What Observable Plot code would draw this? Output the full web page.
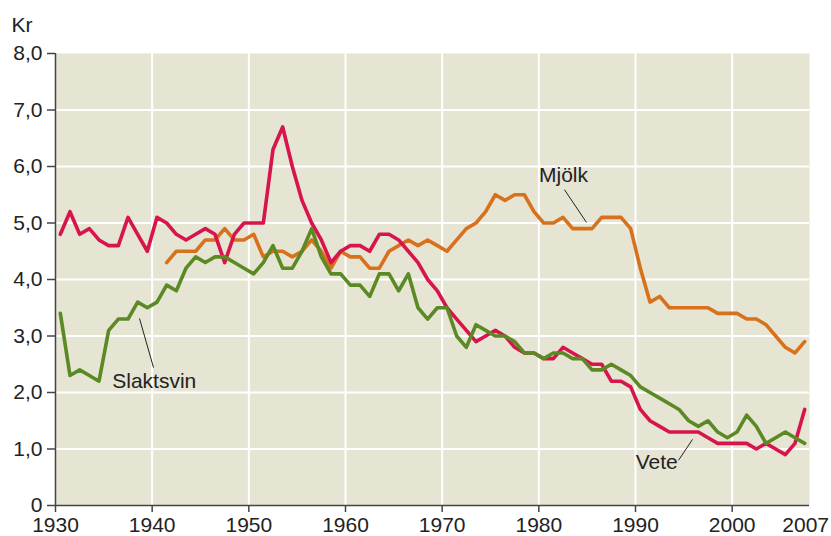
<!DOCTYPE html>
<html>
<head>
<meta charset="utf-8">
<script src="https://cdn.jsdelivr.net/npm/d3@7"></script>
<script src="https://cdn.jsdelivr.net/npm/@observablehq/plot@0.6"></script>
<style>
  html, body { margin: 0; padding: 0; background: #fff; }
  #chart svg { display: block; }
</style>
</head>
<body>
<div id="chart"></div>
<script>
// ---- Data (kr, real prices) ----
const years = d3.range(1930, 2008);
const vete = [
  4.8, 5.2, 4.8, 4.9, 4.7, 4.6, 4.6, 5.1, 4.8, 4.5,
  5.1, 5.0, 4.8, 4.7, 4.8, 4.9, 4.8, 4.3, 4.8, 5.0,
  5.0, 5.0, 6.3, 6.7, 6.0, 5.4, 5.0, 4.7, 4.3, 4.5,
  4.6, 4.6, 4.5, 4.8, 4.8, 4.7, 4.5, 4.3, 4.0, 3.8,
  3.5, 3.3, 3.1, 2.9, 3.0, 3.1, 3.0, 2.8, 2.7, 2.7,
  2.6, 2.6, 2.8, 2.7, 2.6, 2.5, 2.5, 2.2, 2.2, 2.1,
  1.7, 1.5, 1.4, 1.3, 1.3, 1.3, 1.3, 1.2, 1.1, 1.1,
  1.1, 1.1, 1.0, 1.1, 1.0, 0.9, 1.1, 1.7
];
const slaktsvin = [
  3.4, 2.3, 2.4, 2.3, 2.2, 3.1, 3.3, 3.3, 3.6, 3.5,
  3.6, 3.9, 3.8, 4.2, 4.4, 4.3, 4.4, 4.4, 4.3, 4.2,
  4.1, 4.3, 4.6, 4.2, 4.2, 4.5, 4.9, 4.4, 4.1, 4.1,
  3.9, 3.9, 3.7, 4.1, 4.1, 3.8, 4.1, 3.5, 3.3, 3.5,
  3.5, 3.0, 2.8, 3.2, 3.1, 3.0, 3.0, 2.9, 2.7, 2.7,
  2.6, 2.7, 2.7, 2.6, 2.6, 2.4, 2.4, 2.5, 2.4, 2.3,
  2.1, 2.0, 1.9, 1.8, 1.7, 1.5, 1.4, 1.5, 1.3, 1.2,
  1.3, 1.6, 1.4, 1.1, 1.2, 1.3, 1.2, 1.1
];
const mjolkYears = d3.range(1941, 2008);
const mjolk = [
  4.3, 4.5, 4.5, 4.5, 4.7, 4.7, 4.9, 4.7, 4.7,
  4.8, 4.4, 4.5, 4.5, 4.4, 4.5, 4.7, 4.5, 4.2, 4.5,
  4.4, 4.4, 4.2, 4.2, 4.5, 4.6, 4.7, 4.6, 4.7, 4.6,
  4.5, 4.7, 4.9, 5.0, 5.2, 5.5, 5.4, 5.5, 5.5, 5.2,
  5.0, 5.0, 5.1, 4.9, 4.9, 4.9, 5.1, 5.1, 5.1, 4.9,
  4.2, 3.6, 3.7, 3.5, 3.5, 3.5, 3.5, 3.5, 3.4, 3.4,
  3.4, 3.3, 3.3, 3.2, 3.0, 2.8, 2.7, 2.9
];
const xTicks = [1930, 1940, 1950, 1960, 1970, 1980, 1990, 2000];
const yTicks = [0, 1, 2, 3, 4, 5, 6, 7, 8];
const lastYearLabel = "2007";

// series labels with leader lines (data coordinates)
const labels = [
  {name: "Mjölk", x: 1982.55, y: 5.85, anchor: "middle", x1: 1982.65, y1: 5.59, x2: 1984.93, y2: 5.01},
  {name: "Slaktsvin", x: 1935.87, y: 2.20, anchor: "start", x1: 1940.14, y1: 2.44, x2: 1938.69, y2: 3.31},
  {name: "Vete", x: 1994.37, y: 0.77, anchor: "end", x1: 1994.45, y1: 0.80, x2: 1995.9, y2: 1.17}
];

const toRows = (ys, vs) => ys.map((yr, i) => ({year: yr + 0.5, value: vs[i]}));
const veteRows = toRows(years, vete);
const svinRows = toRows(years, slaktsvin);
const mjolkRows = toRows(mjolkYears, mjolk);

const fmt = d => d === 0 ? "0" : d.toFixed(1).replace(".", ",");
const axisColor = "#444";
const textColor = "#222";

const chart = Plot.plot({
  width: 831,
  height: 536,
  marginLeft: 55,
  marginRight: 22,
  marginTop: 53,
  marginBottom: 31,
  style: {fontFamily: "'Liberation Sans', Arial, sans-serif", fontSize: "21px", color: textColor, background: "#fff"},
  x: {domain: [1930, 2008]},
  y: {domain: [0, 8]},
  marks: [
    Plot.frame({fill: "#e6e4d3", stroke: "none"}),
    Plot.gridX(xTicks.slice(1), {stroke: "#fff", strokeOpacity: 1, strokeWidth: 2}),
    Plot.gridY(yTicks.slice(1, -1), {stroke: "#fff", strokeOpacity: 1, strokeWidth: 2}),
    Plot.line(mjolkRows, {x: "year", y: "value", stroke: "#d8711c", strokeWidth: 3.6}),
    Plot.line(veteRows, {x: "year", y: "value", stroke: "#d7144c", strokeWidth: 3.6}),
    Plot.line(svinRows, {x: "year", y: "value", stroke: "#5b8a25", strokeWidth: 3.6}),
    Plot.link(labels, {x1: "x1", y1: "y1", x2: "x2", y2: "y2", stroke: textColor, strokeWidth: 1}),
    Plot.text(labels.filter(d => d.anchor === "middle"), {x: "x", y: "y", text: "name", textAnchor: "middle", fill: textColor, fontSize: 21}),
    Plot.text(labels.filter(d => d.anchor === "start"), {x: "x", y: "y", text: "name", textAnchor: "start", fill: textColor, fontSize: 21}),
    Plot.text(labels.filter(d => d.anchor === "end"), {x: "x", y: "y", text: "name", textAnchor: "end", fill: textColor, fontSize: 21}),
    Plot.ruleX([1930], {stroke: axisColor, strokeWidth: 1.5}),
    Plot.ruleY([0], {stroke: axisColor, strokeWidth: 1.5}),
    Plot.axisY(yTicks, {tickFormat: fmt, tickSize: 8, tickPadding: 5, stroke: axisColor, strokeWidth: 1.5, fill: textColor, fontSize: 21, label: null}),
    Plot.axisX(xTicks, {tickFormat: d => String(d), tickSize: 7, tickPadding: 5, stroke: axisColor, strokeWidth: 1.5, fill: textColor, fontSize: 21, label: null}),
    Plot.axisX([2007.6], {tickFormat: () => lastYearLabel, tickSize: 0, tickPadding: 12, fill: textColor, fontSize: 21, label: null}),
    Plot.text(["Kr"], {frameAnchor: "top-left", dx: -44, dy: -22, textAnchor: "start", lineAnchor: "bottom", fill: textColor, fontSize: 21})
  ]
});
document.getElementById("chart").append(chart);
</script>
</body>
</html>
